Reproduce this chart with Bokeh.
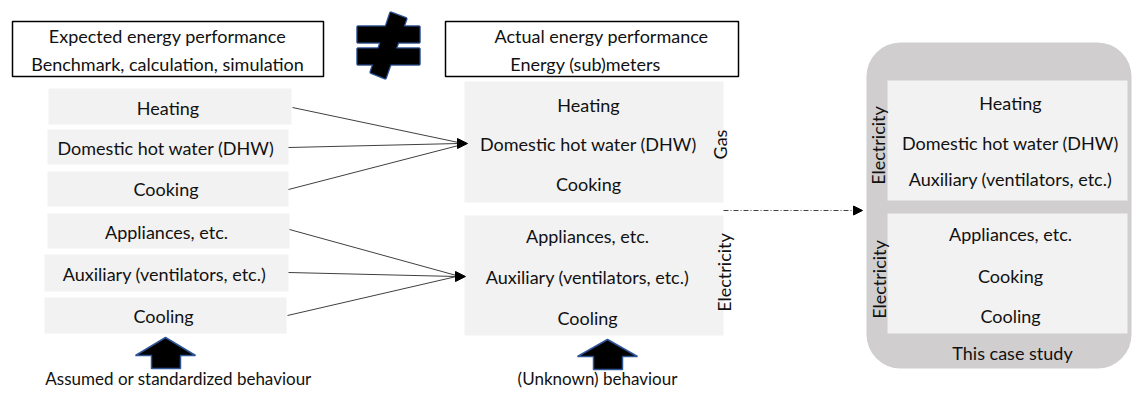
from bokeh.plotting import figure
from bokeh.models import Range1d, BoxAnnotation, Arrow, NormalHead
from bokeh.core.properties import value
from bokeh.embed import file_html
from bokeh.resources import INLINE
import math

# ---------------- content (labels) ----------------
expected_title = ["Expected energy performance", "Benchmark, calculation, simulation"]
actual_title = ["Actual energy performance", "Energy (sub)meters"]
expected_items = ["Heating", "Domestic hot water (DHW)", "Cooking",
                  "Appliances, etc.", "Auxiliary (ventilators, etc.)", "Cooling"]
gas_items = ["Heating", "Domestic hot water (DHW)", "Cooking"]
elec_items = ["Appliances, etc.", "Auxiliary (ventilators, etc.)", "Cooling"]
case_elec_a = ["Heating", "Domestic hot water (DHW)", "Auxiliary (ventilators, etc.)"]
case_elec_b = ["Appliances, etc.", "Cooking", "Cooling"]
carrier_labels = ["Gas", "Electricity"]
case_label = "This case study"
behaviour_labels = ["Assumed or standardized behaviour", "(Unknown) behaviour"]

# ---------------- styling ----------------
FONT = value("Lato")
FS = "18px"
ITEM_FILL = "#f2f2f2"
PANEL_FILL = "#d0cece"
ARROW_LINE = "#2f5597"
LINE_COL = "#404040"

W, H = 1132, 391

def Y(y):
    return H - y

p = figure(width=W, height=H, x_range=Range1d(0, W), y_range=Range1d(0, H),
           output_backend="svg", toolbar_location=None, min_border=0,
           x_axis_location=None, y_axis_location=None)
p.grid.visible = False
p.outline_line_color = None
p.background_fill_color = "white"
p.border_fill_color = "white"

def txt(x, y, s, angle=0.0, size=FS, align="center"):
    p.text(x=[x], y=[Y(y)], text=[s], text_font=FONT, text_font_size=size,
           text_align=align, text_baseline="middle", text_color="#111111", angle=angle)

def quad(l, r, t, b, fill=ITEM_FILL, line=None, lw=1.0):
    p.quad(left=[l], right=[r], top=[Y(t)], bottom=[Y(b)], fill_color=fill,
           line_color=line, line_width=lw, fill_alpha=1 if fill else 0)

# ---------------- title boxes ----------------
quad(12, 323, 21, 76, fill=None, line="black", lw=1.5)
txt(167, 35, expected_title[0])
txt(167, 63, expected_title[1])
quad(445, 738, 21, 76, fill=None, line="black", lw=1.5)
txt(601, 35, actual_title[0])
txt(585, 63, actual_title[1])

# ---------------- not-equal sign ----------------
neq_x = [[357, 419, 419, 357], [357, 419, 419, 357], [390, 406, 385, 370]]
neq_y = [[26, 26, 42, 42], [48, 48, 64, 64], [12, 18, 78, 72]]
neq_y = [[Y(v) for v in ys] for ys in neq_y]
p.patches(xs=neq_x, ys=neq_y, fill_color="black", line_color=ARROW_LINE, line_width=2.5)
p.patches(xs=neq_x, ys=neq_y, fill_color="black", line_color=None)

# ---------------- left item boxes ----------------
lb_left = [48, 47, 47, 47, 44, 44]
lb_right = [291, 288, 288, 289, 288, 286]
lb_top = [88, 129, 171, 213, 254, 297]
lb_bot = [124, 164, 206, 248, 291, 333]
lb_ty = [107, 147, 188, 231, 273, 315]
for i, s in enumerate(expected_items):
    quad(lb_left[i], lb_right[i], lb_top[i], lb_bot[i])
    txt((lb_left[i] + lb_right[i]) / 2 - 2, lb_ty[i], s)

# ---------------- connector lines ----------------
x0 = [292, 288, 288, 289, 288, 287]
y0 = [107, 147, 189, 229, 272, 315]
x1 = [458, 458, 458, 456, 456, 456]
y1 = [142, 143, 145, 275, 276, 276]
p.segment(x0=x0, y0=[Y(v) for v in y0], x1=x1, y1=[Y(v) for v in y1],
          line_color=LINE_COL, line_width=1)
for (xa, xb, yy) in [(448, 467, 143), (446, 465, 276)]:
    p.add_layout(Arrow(x_start=xa, y_start=Y(yy), x_end=xb, y_end=Y(yy), line_alpha=0,
                       end=NormalHead(size=10, fill_color="black", line_color="black", line_width=1)))

# ---------------- middle boxes ----------------
quad(464, 723, 81, 202)
for s, yy in zip(gas_items, [104, 143, 183]):
    txt(588, yy, s)
quad(464, 723, 215, 335)
for s, yy in zip(elec_items, [235, 276, 317]):
    txt(587, yy, s)
txt(719, 144, carrier_labels[0], angle=math.pi / 2)
txt(723, 272, carrier_labels[1], angle=math.pi / 2)

# ---------------- dotted arrow ----------------
p.add_layout(Arrow(x_start=723, y_start=Y(210), x_end=862, y_end=Y(210),
                   line_color=LINE_COL, line_width=1, line_dash="5 2 1 2",
                   end=NormalHead(size=9, fill_color="black", line_color="black", line_width=1)))

# ---------------- right panel ----------------
p.add_layout(BoxAnnotation(left=866, right=1131, top=Y(42), bottom=Y(368),
                           fill_color=PANEL_FILL, fill_alpha=1, line_color=None,
                           border_radius=34, level="underlay"))
quad(887, 1127, 80, 200)
for s, yy in zip(case_elec_a, [102, 142, 178]):
    txt(1010, yy, s)
quad(887, 1127, 213, 333)
for s, yy in zip(case_elec_b, [233, 275, 315]):
    txt(1010, yy, s)
txt(877, 145, carrier_labels[1], angle=math.pi / 2)
txt(878, 279, carrier_labels[1], angle=math.pi / 2)
txt(1012, 352, case_label)

# ---------------- behaviour block arrows ----------------
arr_x = [[165, 195, 180, 180, 151, 151, 135], [607, 637, 622, 622, 593, 593, 577]]
arr_y = [[337, 355, 355, 368, 368, 355, 355], [339, 356, 356, 369, 369, 356, 356]]
p.patches(xs=arr_x, ys=[[Y(v) for v in ys] for ys in arr_y],
          fill_color="black", line_color=ARROW_LINE, line_width=1.5)
txt(178, 378, behaviour_labels[0], size="17px")
txt(597, 378, behaviour_labels[1], size="17px")

open("out.html", "w").write(file_html(p, INLINE))
